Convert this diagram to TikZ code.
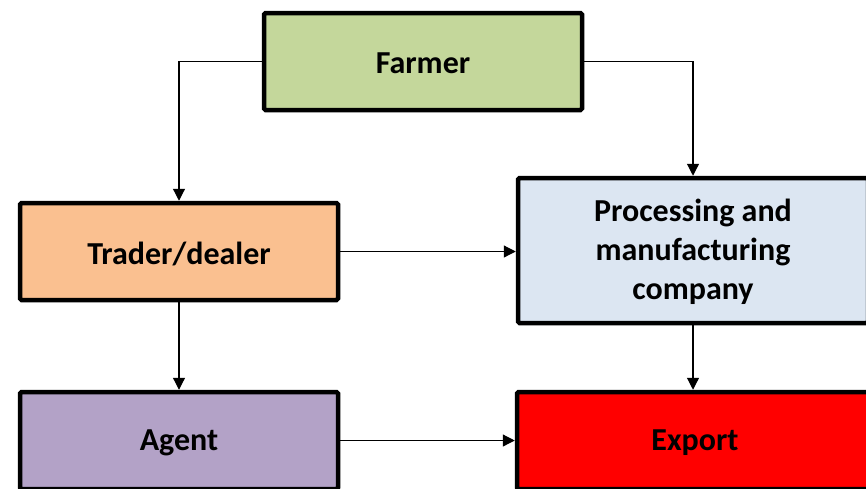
\documentclass[tikz,border=0pt]{standalone}
\usepackage{fontspec}
\setmainfont{Carlito}
\usetikzlibrary{arrows.meta}

\definecolor{farmergreen}{HTML}{C4D79B}
\definecolor{traderpeach}{HTML}{FAC090}
\definecolor{companyblue}{HTML}{DCE6F2}
\definecolor{agentlilac}{HTML}{B3A2C7}
\definecolor{exportred}{HTML}{FF0000}

\newcommand\boxtext[1]{\raisebox{-2pt}[\height][\depth]{#1}}

\begin{document}
\begin{tikzpicture}
	[x=1pt, y=-1pt,%
	box/.style ={rectangle,	draw=black,	line width=4.5pt,	rounded corners=1.5pt,	inner sep=0pt,	align=center,	font=\fontsize{32}{39}\selectfont\bfseries},%
	link/.style={-{Triangle[length=12pt,width=12pt]},	line width=1.2pt},%
	]

	\useasboundingbox (0,0) rectangle (866,488);
	\clip (0,0) rectangle (866,488);

	% nodes
	\node (farmer)  at (423,61.5)  [box, fill=farmergreen, minimum width=318pt, minimum height=97pt] {\boxtext{Farmer}};
	\node (trader)  at (179,251.5) [box, fill=traderpeach, minimum width=318pt, minimum height=97pt] {\boxtext{Trader/dealer}};
	\node (company) at (693,250.5) [box, fill=companyblue, minimum width=350pt, minimum height=145pt] {\boxtext{\begin{tabular}{@{}c@{}}Processing and\\manufacturing\\company\end{tabular}}};
	\node (agent)   at (179,440.5) [box, fill=agentlilac,  minimum width=318pt, minimum height=97pt] {\boxtext{Agent}};
	\node (export)  at (695,440.5) [box, fill=exportred,   minimum width=356pt, minimum height=97pt] {\boxtext{Export}};

	% interconnections
	\draw [link] (farmer.west) -| (trader.north);
	\draw [link] (farmer.east) -| (company.north);
	\draw [link] (trader.east) -- (trader.east -| company.west);
	\draw [link] (trader.south) -- (agent.north);
	\draw [link] (company.south) -- (company.south |- export.north);
	\draw [link] (agent.east) -- (export.west);

\end{tikzpicture}
\end{document}
